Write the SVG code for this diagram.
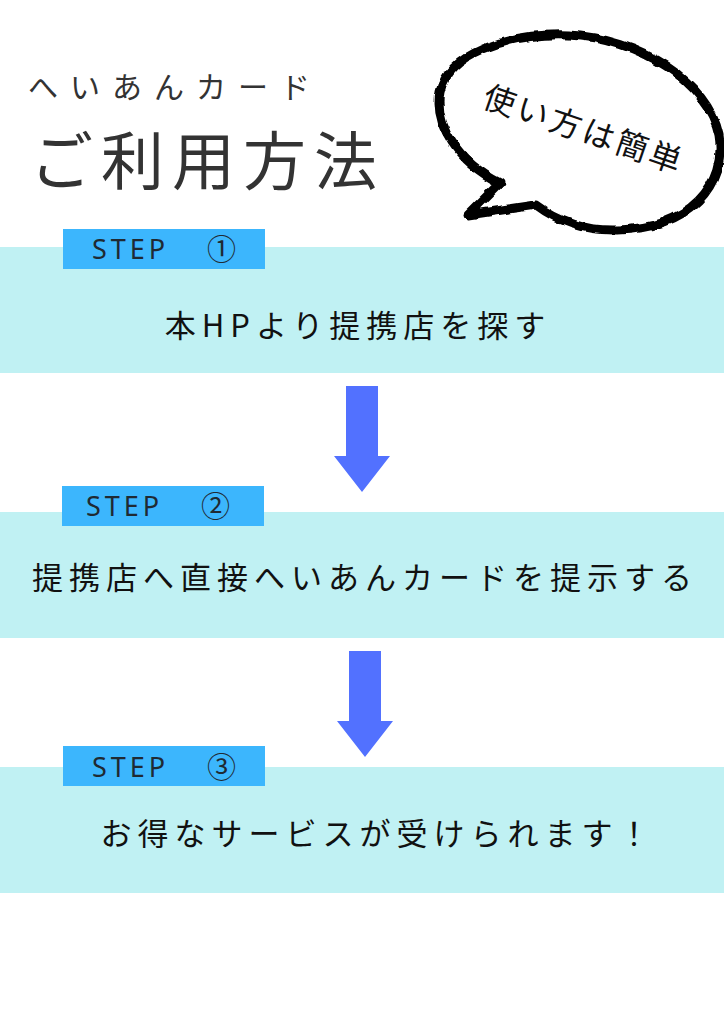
<svg xmlns="http://www.w3.org/2000/svg" width="724" height="1024" viewBox="0 0 724 1024">
<defs>
<style>
.band{fill:#C0F1F3}
.tag{fill:#3CB6FD}
.arrow{fill:#5271FF}
.jp{font-family:"Noto Sans CJK JP","Noto Sans",sans-serif}
.step{font-family:"Noto Sans","Noto Sans CJK JP",sans-serif;font-size:27px;fill:#1f2a33;letter-spacing:4px}
.num{font-family:"Noto Sans CJK JP",sans-serif;font-size:29px;fill:#1f2a33}
.main{font-family:"Noto Sans CJK JP",sans-serif;font-size:31px;fill:#111;text-anchor:middle;letter-spacing:6px}
</style>
<filter id="rough" x="-10%" y="-10%" width="120%" height="120%">
<feTurbulence type="fractalNoise" baseFrequency="0.08" numOctaves="2" seed="3"/>
<feDisplacementMap in="SourceGraphic" scale="5" xChannelSelector="R" yChannelSelector="G"/>
</filter>
</defs>
<rect width="724" height="1024" fill="#fff"/>

<g id="title">
<text class="jp" x="28" y="98" font-size="30" fill="#333" letter-spacing="12">へいあんカード</text>
<text class="jp" x="30" y="184" font-size="63" fill="#333" letter-spacing="8">ご利用方法</text>
</g>

<g id="bubble">
<path d="M468,215 L500,183 C458,162 434,125 440,92 C448,55 505,33 568,35 C640,38 708,82 719,135 C727,185 690,228 618,230 C588,231 560,223 536,205 Z" fill="#fff" stroke="#000" stroke-width="9" stroke-linejoin="round" filter="url(#rough)"/>
<text class="jp" x="584" y="141" font-size="32" fill="#111" text-anchor="middle" letter-spacing="3" transform="rotate(19 584 129)">使い方は簡単</text>
</g>

<g id="step1">
<rect class="band" x="0" y="247" width="724" height="126"/>
<rect class="tag" x="63" y="229" width="202" height="40"/>
<text class="step" x="92" y="259">STEP</text>
<text class="num" x="207" y="260">①</text>
<text class="main" x="358" y="337">本HPより提携店を探す</text>
</g>

<g id="step2">
<rect class="band" x="0" y="512" width="724" height="126"/>
<rect class="tag" x="62" y="486" width="202" height="40"/>
<text class="step" x="86" y="516">STEP</text>
<text class="num" x="201" y="517">②</text>
<text class="main" x="365" y="589">提携店へ直接へいあんカードを提示する</text>
</g>

<g id="step3">
<rect class="band" x="0" y="767" width="724" height="126"/>
<rect class="tag" x="63" y="746" width="202" height="40"/>
<text class="step" x="92" y="777">STEP</text>
<text class="num" x="207" y="778">③</text>
<text class="main" x="378" y="845">お得なサービスが受けられます！</text>
</g>

<g id="connectors">
<path class="arrow" d="M346,386 H378 V456 H390 L362,492 L334,456 H346 Z"/>
<path class="arrow" d="M349,651 H381 V721 H393 L365,757 L337,721 H349 Z"/>
</g>
</svg>
